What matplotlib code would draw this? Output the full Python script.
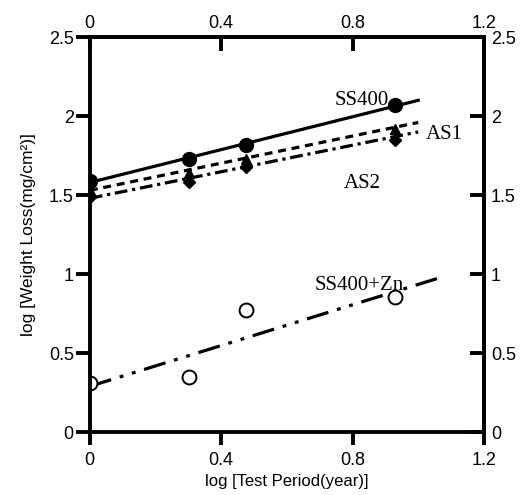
import matplotlib
matplotlib.use("Agg")
import matplotlib.pyplot as plt

# measured points (log period, log weight loss)
log_t = [0.0, 0.301, 0.477, 0.93]
ss400 = [1.59, 1.73, 1.82, 2.07]
as1 = [1.53, 1.64, 1.73, 1.92]
as2 = [1.49, 1.58, 1.68, 1.85]
ss400_zn = [0.31, 0.35, 0.77, 0.855]

# regression line end points
fit_x = [0.0, 1.0]
fit_ss400 = [1.58, 2.10]
fit_as1 = [1.53, 1.96]
fit_as2 = [1.48, 1.90]
fit_zn_x = [0.0, 1.07]
fit_zn = [0.29, 0.98]

xticks = [0, 0.4, 0.8, 1.2]
xticklabels = ["0", "0.4", "0.8", "1.2"]
yticks = [0, 0.5, 1, 1.5, 2, 2.5]
yticklabels = ["0", "0.5", "1", "1.5", "2", "2.5"]

plt.rcParams['font.family'] = ['Liberation Sans', 'DejaVu Sans']

fig = plt.figure(figsize=(5.22, 4.95), dpi=100)
ax = fig.add_axes([0.172, 0.127, 0.755, 0.798])

lw = 2.3
sw = 2.8
ax.plot(fit_x, fit_ss400, color='black', lw=lw, ls='-')
ax.plot(fit_x, fit_as1, color='black', lw=lw, ls=(0, (2.5, 1.8)))
ax.plot(fit_x, fit_as2, color='black', lw=lw, ls=(0, (4, 1.5, 1, 1.5)))
ax.plot(fit_zn_x, fit_zn, color='black', lw=lw, ls=(0, (7, 2.8, 1.2, 2.8, 1.2, 2.8)))

ax.plot(log_t, ss400, 'o', color='black', ms=10)
ax.plot(log_t, as1, '^', color='black', ms=7.5)
ax.plot(log_t, as2, 'D', color='black', ms=6.5)
ax.plot(log_t, ss400_zn, 'o', mfc='white', mec='black', mew=1.4, ms=10)

serif = dict(family='Liberation Serif', fontsize=15)
ax.text(0.91, 2.10, "SS400", ha='right', va='center', **serif)
ax.text(1.023, 1.886, "AS1", ha='left', va='center', **serif)
ax.text(0.829, 1.576, "AS2", ha='center', va='center', **serif)
ax.text(0.822, 0.93, "SS400+Zn", ha='center', va='center', **serif)

ax.set_xlim(0, 1.2)
ax.set_ylim(0, 2.5)
ax.set_xticks(xticks, xticklabels)
ax.set_yticks(yticks, yticklabels)
ax.tick_params(axis='x', direction='out', length=9, width=sw, labelsize=13, pad=5)
ax.tick_params(axis='y', direction='out', length=10, width=sw, labelsize=13, pad=1.5)
for s in ax.spines.values():
    s.set_linewidth(sw)

top = ax.secondary_xaxis('top')
top.set_xticks(xticks, xticklabels)
top.tick_params(direction='in', length=10, width=sw, labelsize=13, pad=4)
top.spines['top'].set_linewidth(sw)

right = ax.secondary_yaxis('right')
right.set_yticks(yticks, yticklabels)
right.tick_params(direction='in', length=10, width=sw, labelsize=13, pad=5)
right.spines['right'].set_linewidth(sw)

ax.set_xlabel("log [Test Period(year)]", fontsize=12, labelpad=4)
ax.set_ylabel("log [Weight Loss(mg/cm²)]", fontsize=12.5, labelpad=9)

fig.savefig("out.png", dpi=100)
